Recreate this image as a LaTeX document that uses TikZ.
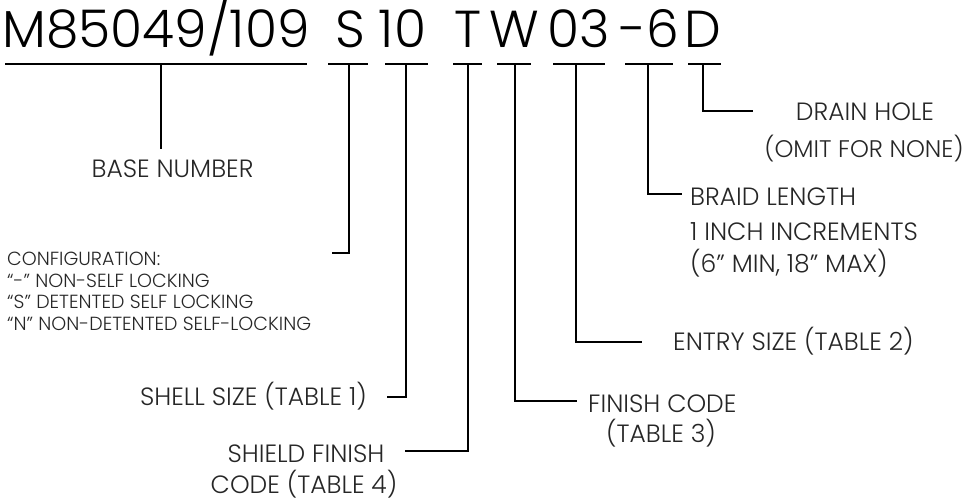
\documentclass[tikz,border=0pt]{standalone}
\usepackage{fontspec}
\setmainfont{Poppins Light}
\begin{document}
\begin{tikzpicture}[x=1pt,y=-1pt,
  conn/.style={line width=1.6pt,black},
  lbl/.style={inner sep=0pt,text=black!85,font=\fontsize{25}{30}\selectfont},
  small/.style={inner sep=0pt,text=black!85,font=\fontsize{19}{22}\selectfont,anchor=base west},
  big/.style={inner sep=0pt,text=black,font=\fontsize{52}{60}\selectfont,anchor=base}]
\useasboundingbox (0,0) rectangle (966,501);
% title tokens
\node[big] (tBase) at (156,47) {M85049/109};
\node[big] (tS) at (350,47) {S};
\node[big] (t10) at (402.5,47) {10};
\node[big] (tT) at (468,47) {T};
\node[big] (tW) at (514.5,47) {W};
\node[big] (t03) at (578.5,47) {03};
\node[big] (t6) at (649.5,47) {-6};
\node[big] (tD) at (703,47) {D};
% bars
\draw[conn] (5,64) -- (307,64);
\draw[conn] (328,64) -- (368,64);
\draw[conn] (385,64) -- (428,64);
\draw[conn] (453,64) -- (482,64);
\draw[conn] (497,64) -- (531,64);
\draw[conn] (553,64) -- (605,64);
\draw[conn] (625,64) -- (673,64);
\draw[conn] (688,64) -- (721,64);
\coordinate (bBase) at (161,64);
\coordinate (bS) at (349,64);
\coordinate (b10) at (406,64);
\coordinate (bT) at (468,64);
\coordinate (bW) at (515,64);
\coordinate (b03) at (576,64);
\coordinate (b6) at (648,64);
\coordinate (bD) at (703,64);
% labels
\node[lbl,anchor=base] (lBase) at (172.5,177) {BASE NUMBER};
\node[small] (lConf1) at (7,265) {CONFIGURATION:};
\node[small] (lConf2) at (7,287) {“-” NON-SELF LOCKING};
\node[small] (lConf3) at (7,308.5) {“S” DETENTED SELF LOCKING};
\node[small] (lConf4) at (7,330) {“N” NON-DETENTED SELF-LOCKING};
\node[lbl,anchor=base east] (lShell) at (367,405) {SHELL SIZE (TABLE 1)};
\node[lbl,anchor=base] (lShield1) at (306,462) {SHIELD FINISH};
\node[lbl,anchor=base] (lShield2) at (304,493) {CODE (TABLE 4)};
\node[lbl,anchor=base west] (lFinish1) at (588,412) {FINISH CODE};
\node[lbl,anchor=base] (lFinish2) at (661,442) {(TABLE 3)};
\node[lbl,anchor=base west] (lEntry) at (673,350) {ENTRY SIZE (TABLE 2)};
\node[lbl,anchor=base west] (lBraid1) at (690,205) {BRAID LENGTH};
\node[lbl,anchor=base west] (lBraid2) at (690,240) {1 INCH INCREMENTS};
\node[lbl,anchor=base west] (lBraid3) at (690,272) {(6” MIN, 18” MAX)};
\node[lbl,anchor=base] (lDrain1) at (865,120) {DRAIN HOLE};
\node[lbl,anchor=base,font=\fontsize{24}{28}\selectfont] (lDrain2) at (864,157) {(OMIT FOR NONE)};
% connector ends
\coordinate (eS) at (332,253);
\coordinate (e10) at (387,397);
\coordinate (eT) at (405,451);
\coordinate (eW) at (577,401);
\coordinate (e03) at (642,342);
\coordinate (e6) at (682,194);
\coordinate (eD) at (753,111);
\coordinate (eBase) at (161,149);
% connectors
\draw[conn] (bBase) -- (eBase);
\draw[conn] (bS) |- (eS);
\draw[conn] (b10) |- (e10);
\draw[conn] (bT) |- (eT);
\draw[conn] (bW) |- (eW);
\draw[conn] (b03) |- (e03);
\draw[conn] (b6) |- (e6);
\draw[conn] (bD) |- (eD);
\end{tikzpicture}
\end{document}
